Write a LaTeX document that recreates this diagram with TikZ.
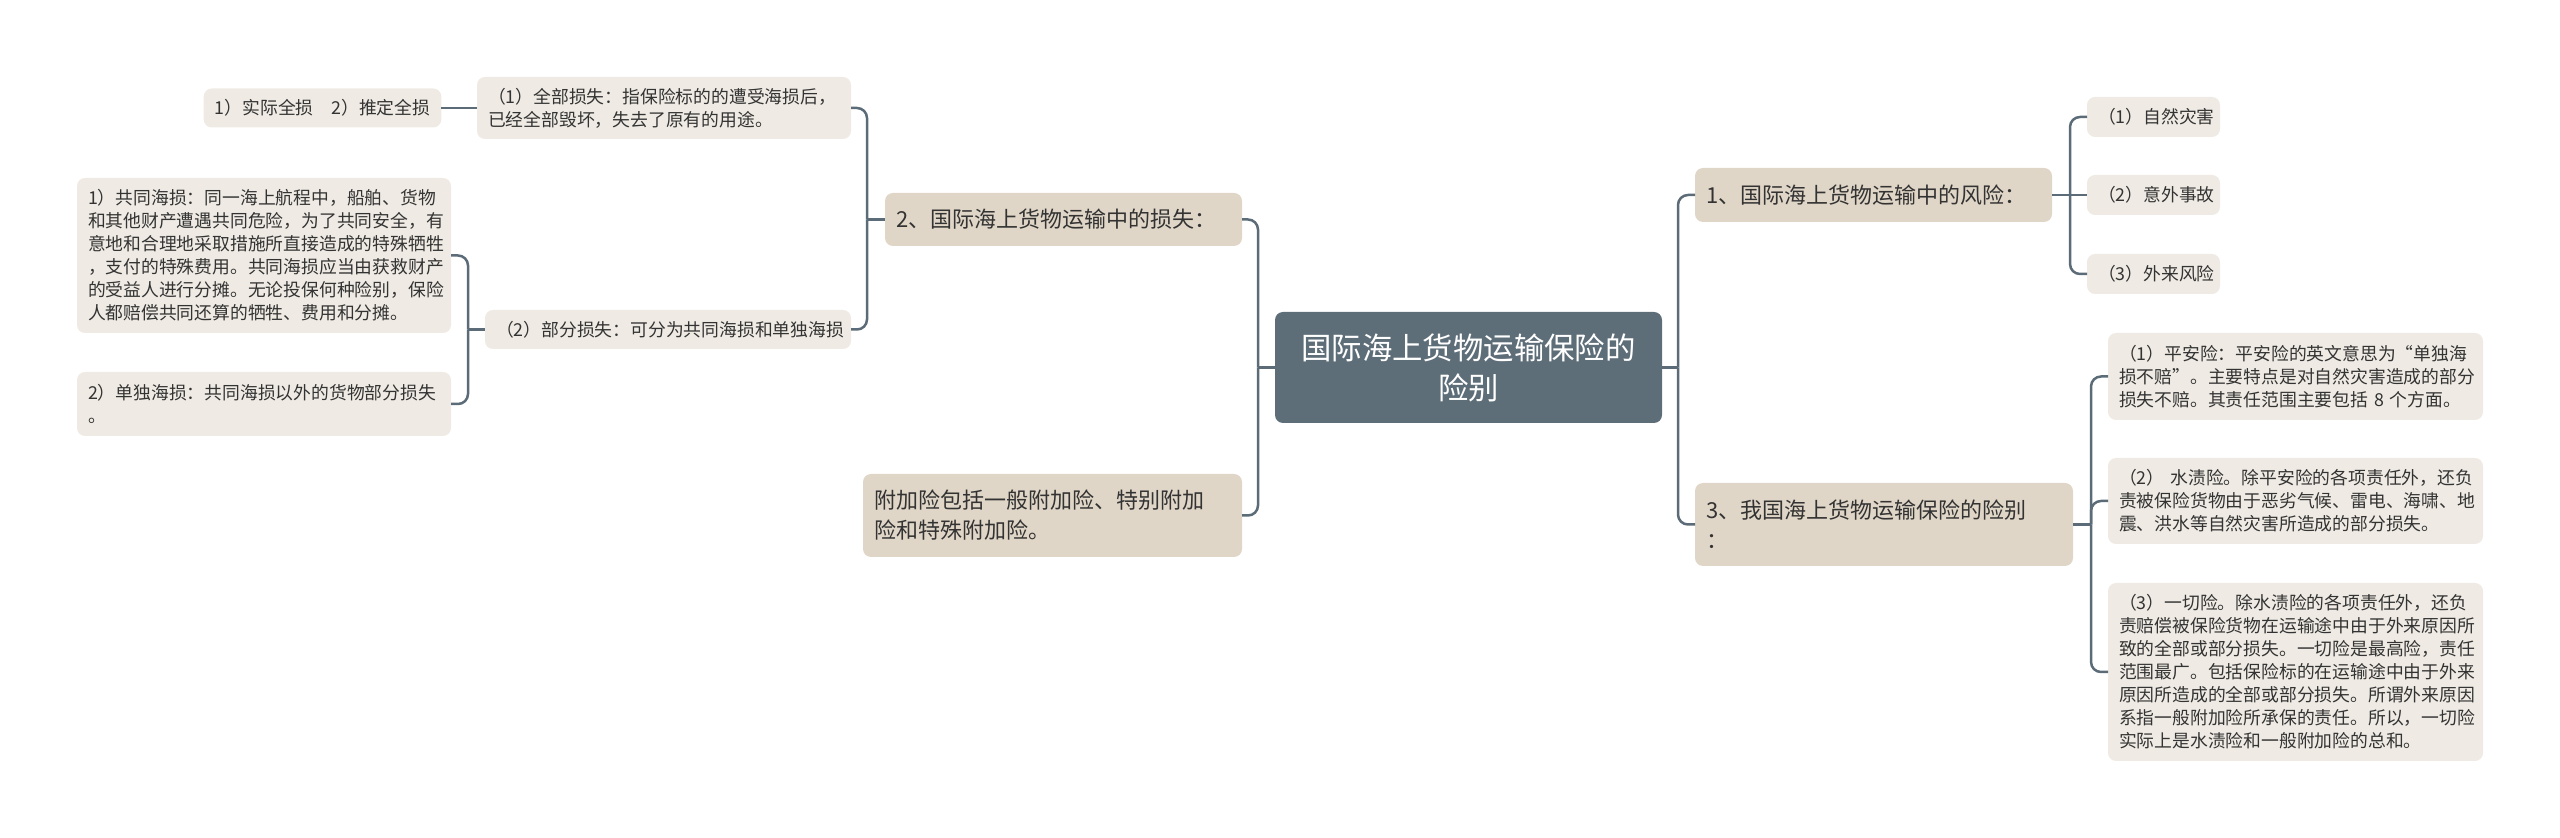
\documentclass[tikz,border=0pt]{standalone}
\usepackage{fontspec}
\setmainfont{Noto Sans CJK SC}
\usepackage{tikz}
\usetikzlibrary{calc}

\definecolor{rootfill}{HTML}{5E6E79}
\definecolor{mainfill}{HTML}{E0D6C7}
\definecolor{leaffill}{HTML}{EFEBE4}
\definecolor{linkcol}{HTML}{5B6B77}
\definecolor{txtcol}{HTML}{333333}

\begin{document}
\begin{tikzpicture}[x=0.5pt, y=-0.5pt]
	\tikzset{every node/.style = {inner xsep = 5.5pt, inner ysep = 0pt, outer sep = 0pt, align = left}}
	\tikzset{rootbox/.style = {fill = rootfill, rounded corners = 4pt, text = white, align = center, font = \fontsize{15.2pt}{20pt}\selectfont}}
	\tikzset{mainbox/.style = {fill = mainfill, rounded corners = 4pt, text = txtcol, font = \fontsize{11pt}{15pt}\selectfont}}
	\tikzset{leafbox/.style = {fill = leaffill, rounded corners = 4pt, text = txtcol, font = \fontsize{8.9pt}{11.5pt}\selectfont}}
	\tikzset{link/.style = {draw = linkcol, line width = 1.25pt, rounded corners = 5pt}}

	\useasboundingbox (0,0) rectangle (2560,838);

%% Root node
\draw (1468.5,367.5) node[name = root, rootbox, minimum width = 193.5pt, minimum height = 55.5pt]{国际海上货物运输保险的\\险别};

%% Left branches
\draw (1063.5,219.5) node[name = loss, mainbox, text width = 167.5pt, minimum height = 26.5pt]{2、国际海上货物运输中的损失：};
\draw (1052.5,515.5) node[name = extra, mainbox, text width = 178.5pt, minimum height = 41.5pt]{附加险包括一般附加险、特别附加\\险和特殊附加险。};

%% Loss details
\draw (664,108) node[name = total, leafbox, text width = 176pt, minimum height = 31pt]{（1）全部损失：指保险标的的遭受海损后，\\已经全部毁坏，失去了原有的用途。};
\draw (322.5,108) node[name = totalkind, leafbox, minimum width = 118.5pt, minimum height = 19.5pt]{1）实际全损\quad 2）推定全损};
\draw (668,329.5) node[name = partial, leafbox, text width = 172pt, minimum height = 19.5pt]{（2）部分损失：可分为共同海损和单独海损};
\draw (264,255.5) node[name = general, leafbox, text width = 176pt, minimum height = 77.5pt]{1）共同海损：同一海上航程中，船舶、货物\\和其他财产遭遇共同危险，为了共同安全，有\\意地和合理地采取措施所直接造成的特殊牺牲\\，支付的特殊费用。共同海损应当由获救财产\\的受益人进行分摊。无论投保何种险别，保险\\人都赔偿共同还算的牺牲、费用和分摊。};
\draw (264,404) node[name = particular, leafbox, text width = 176pt, minimum height = 32pt]{2）单独海损：共同海损以外的货物部分损失\\。};

%% Right branches
\draw (1873.5,195) node[name = risk, mainbox, text width = 167.5pt, minimum height = 27pt]{1、国际海上货物运输中的风险：};
\draw (1884,524.5) node[name = cover, mainbox, text width = 178pt, minimum height = 41.5pt]{3、我国海上货物运输保险的险别\\：};

%% Risk details
\draw (2153.5,117) node[name = natural, leafbox, text width = 55.5pt, minimum height = 20pt]{（1）自然灾害};
\draw (2153.5,195) node[name = accident, leafbox, text width = 55.5pt, minimum height = 20pt]{（2）意外事故};
\draw (2153.5,274) node[name = external, leafbox, text width = 55.5pt, minimum height = 20pt]{（3）外来风险};

%% Cover details
\draw (2295.5,376.5) node[name = fpa, leafbox, text width = 176.5pt, minimum height = 43.5pt]{（1）平安险：平安险的英文意思为“单独海\\损不赔”。主要特点是对自然灾害造成的部分\\损失不赔。其责任范围主要包括~8~个方面。};
\draw (2295.5,501) node[name = wpa, leafbox, text width = 176.5pt, minimum height = 43pt]{（2）~水渍险。除平安险的各项责任外，还负\\责被保险货物由于恶劣气候、雷电、海啸、地\\震、洪水等自然灾害所造成的部分损失。};
\draw (2295.5,672) node[name = allrisk, leafbox, text width = 176.5pt, minimum height = 89pt]{（3）一切险。除水渍险的各项责任外，还负\\责赔偿被保险货物在运输途中由于外来原因所\\致的全部或部分损失。一切险是最高险，责任\\范围最广。包括保险标的在运输途中由于外来\\原因所造成的全部或部分损失。所谓外来原因\\系指一般附加险所承保的责任。所以，一切险\\实际上是水渍险和一般附加险的总和。};

%% Edges left
\draw[link] (root.west) -- ++(-17,0) coordinate (rootL);
\draw[link] (rootL) |- (loss.east);
\draw[link] (rootL) |- (extra.east);
\draw[link] (loss.west) -- ++(-18,0) coordinate (lossL);
\draw[link] (lossL) |- (total.east);
\draw[link] (lossL) |- (partial.east);
\draw[link] (total.west) -- (totalkind.east);
\draw[link] (partial.west) -- ++(-17,0) coordinate (partialL);
\draw[link] (partialL) |- (general.east);
\draw[link] (partialL) |- (particular.east);

%% Edges right
\draw[link] (root.east) -- ++(16,0) coordinate (rootR);
\draw[link] (rootR) |- (risk.west);
\draw[link] (rootR) |- (cover.west);
\draw[link] (risk.east) -- ++(18,0) coordinate (riskR);
\draw[link] (riskR) |- (natural.west);
\draw[link] (riskR) -- (accident.west);
\draw[link] (riskR) |- (external.west);
\draw[link] (cover.east) -- ++(18,0) coordinate (coverR);
\draw[link] (coverR) |- (fpa.west);
\draw[link] (coverR) |- (wpa.west);
\draw[link] (coverR) |- (allrisk.west);

\end{tikzpicture}
\end{document}
